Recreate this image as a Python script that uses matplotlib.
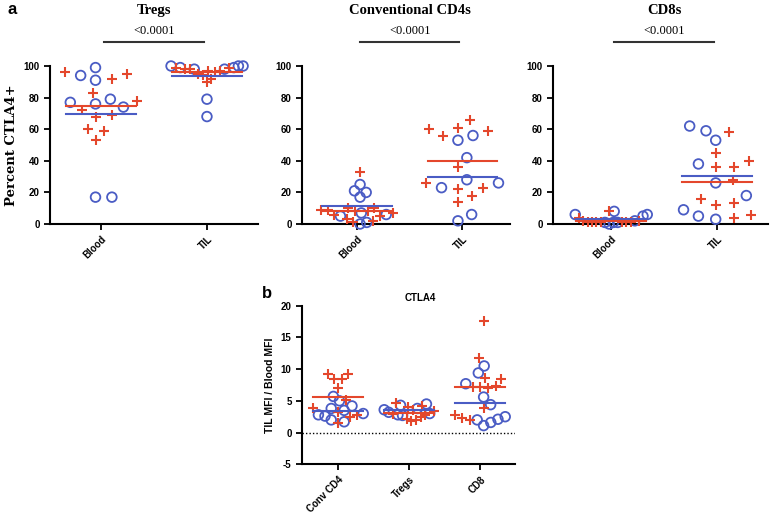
import numpy as np
import matplotlib
matplotlib.use("Agg")
import matplotlib.pyplot as plt

plt.rcParams["axes.unicode_minus"] = False

BLUE = "#4a5cc4"
RED = "#e4472c"

# panel a: percent CTLA4+ ; circles (blue) and crosses (red) per group
groups_a = ["Blood", "TIL"]
titles_a = ["Tregs", "Conventional CD4s", "CD8s"]
pvals_a = ["<0.0001", "<0.0001", "<0.0001"]

tregs_blood_circ = [99, 94, 91, 79, 77, 76, 74, 17, 17]
tregs_blood_plus = [96, 92, 95, 83, 78, 72, 68, 69, 59, 60, 53]
tregs_til_circ = [100, 100, 100, 99, 99, 98, 98, 79, 68]
tregs_til_plus = [99, 98, 97, 97, 96, 95, 94, 92, 90, 99, 98]

cd4_blood_circ = [20, 21, 25, 17, 7, 6, 5, 1, 0]
cd4_blood_plus = [33, 10, 10, 9, 9, 8, 8, 7, 6, 5, 3, 2, 1]
cd4_til_circ = [53, 56, 42, 26, 23, 28, 2, 6]
cd4_til_plus = [60, 66, 56, 59, 61, 36, 23, 26, 18, 22, 14]

cd8_blood_circ = [6, 5, 8, 6, 2, 1, 1, 1, 0]
cd8_blood_plus = [8, 4, 2, 2, 1, 1, 1, 1, 1, 1, 1]
cd8_til_circ = [59, 53, 62, 38, 26, 18, 9, 5, 3]
cd8_til_plus = [58, 45, 40, 36, 36, 28, 16, 13, 12, 4, 6]

panel_a = [
    [(tregs_blood_circ, tregs_blood_plus), (tregs_til_circ, tregs_til_plus)],
    [(cd4_blood_circ, cd4_blood_plus), (cd4_til_circ, cd4_til_plus)],
    [(cd8_blood_circ, cd8_blood_plus), (cd8_til_circ, cd8_til_plus)],
]

# panel b: TIL MFI / Blood MFI
groups_b = ["Conv CD4", "Tregs", "CD8"]
conv_circ = [5.7, 3.0, 2.8, 4.2, 3.8, 5.0, 3.5, 2.6, 1.7, 2.0]
conv_plus = [9.2, 8.4, 8.4, 9.3, 7.0, 5.2, 3.3, 2.7, 2.5, 1.5, 3.9]
treg_circ = [4.3, 4.5, 3.8, 3.0, 2.8, 2.7, 3.2, 3.6]
treg_plus = [4.6, 4.0, 4.2, 3.5, 3.0, 2.5, 2.2, 2.0, 1.8, 2.8, 3.4]
cd8b_circ = [10.5, 9.4, 7.7, 5.6, 4.4, 2.5, 2.1, 1.6, 2.0, 1.1]
cd8b_plus = [17.6, 11.7, 8.5, 8.6, 7.3, 7.2, 7.2, 7.0, 3.8, 2.8, 2.3, 2.0]
panel_b = [(conv_circ, conv_plus), (treg_circ, treg_plus), (cd8b_circ, cd8b_plus)]

tick_font = dict(fontsize=7, fontweight="bold", family="Liberation Sans")
serif = "Liberation Serif"


def swarm(ax, xc, ys, d=18.0, ry=1.6, maxw=36.0):
    # beeswarm in display pixels with an elliptic footprint (wide rows),
    # squeezed to maxw; returns x in data coords
    ys = np.asarray(ys, dtype=float)
    pts = ax.transData.transform(np.column_stack([np.full(len(ys), xc), ys]))
    order = np.argsort(pts[:, 1])
    placed = []
    xs = np.zeros(len(ys))
    for i in order:
        y = pts[i, 1]
        cands = [0.0]
        for px, py in placed:
            dy = (y - py) * ry
            if abs(dy) < d:
                dx = np.sqrt(d * d - dy * dy)
                cands += [px + dx, px - dx]
        cands.sort(key=abs)
        for c in cands:
            if all((c - px) ** 2 + ((y - py) * ry) ** 2 >= d * d - 1e-6 for px, py in placed):
                break
        placed.append((c, y))
        xs[i] = c
    xs = xs - (xs.max() + xs.min()) / 2
    w = np.abs(xs).max()
    if w > maxw:
        xs = xs * maxw / w
    back = ax.transData.inverted().transform(np.column_stack([pts[:, 0] + xs, pts[:, 1]]))
    return back[:, 0]


def draw_groups(ax, data, half=0.33, maxw=36.0):
    for k, (circ, plus) in enumerate(data):
        allv = list(circ) + list(plus)
        xs = swarm(ax, k, allv, maxw=maxw)
        nc = len(circ)
        ax.scatter(xs[:nc], circ, s=48, facecolors="none", edgecolors=BLUE,
                   linewidths=1.3, zorder=3, clip_on=False)
        ax.scatter(xs[nc:], plus, s=55, marker="+", color=RED,
                   linewidths=1.5, zorder=4, clip_on=False)
        ax.plot([k - half, k + half], [np.mean(circ)] * 2, color=BLUE, lw=1.5, zorder=5)
        ax.plot([k - half, k + half], [np.mean(plus)] * 2, color=RED, lw=1.5, zorder=5)


def style(ax):
    for s in ["top", "right"]:
        ax.spines[s].set_visible(False)
    for s in ["left", "bottom"]:
        ax.spines[s].set_linewidth(1.5)
    ax.tick_params(width=1.3, length=4, direction="out")
    for lab in ax.get_yticklabels():
        lab.set(**tick_font)


fig = plt.figure(figsize=(7.72, 5.2), dpi=100)

rects_a = [
    (50 / 772, 1 - 224 / 520, 208 / 772, 158 / 520),
    (302 / 772, 1 - 224 / 520, 208 / 772, 158 / 520),
    (553 / 772, 1 - 224 / 520, 215 / 772, 158 / 520),
]
xlims_a = [(-0.48, 1.48), (-0.52, 1.45), (-0.55, 1.48)]

for i in range(3):
    ax = fig.add_axes(rects_a[i])
    ax.set_ylim(0, 100)
    ax.set_xlim(*xlims_a[i])
    ax.set_yticks([0, 20, 40, 60, 80, 100])
    ax.set_xticks([0, 1])
    ax.set_xticklabels(groups_a, rotation=45, ha="right", rotation_mode="anchor", **tick_font)
    style(ax)
    draw_groups(ax, panel_a[i])
    # significance bar + title
    ax.plot([0.03, 0.97], [115, 115], color="#333333", lw=1.5, clip_on=False)
    ax.text(0.5, 122, pvals_a[i], ha="center", va="center", fontsize=9, family=serif)
    ax.text(0.5, 135, titles_a[i], ha="center", va="center", fontsize=10.5,
            fontweight="bold", family=serif)
    if i == 0:
        ax.set_ylabel("Percent CTLA4+", fontsize=9.5, fontweight="bold",
                      family="DejaVu Serif", labelpad=4)

axb = fig.add_axes((302 / 772, 1 - 464.3 / 520, 213 / 772, 158.6 / 520))
axb.set_ylim(-5, 20)
axb.set_xlim(-0.51, 2.49)
axb.set_yticks([-5, 0, 5, 10, 15, 20])
axb.set_xticks([0, 1, 2])
axb.set_xticklabels(groups_b, rotation=45, ha="right", rotation_mode="anchor", **tick_font)
style(axb)
axb.axhline(0, color="black", lw=1.0, ls=(0, (1, 1.5)), zorder=1)
draw_groups(axb, panel_b, half=0.35, maxw=25.0)
axb.text(1.15, 21.2, "CTLA4", ha="center", va="center", fontsize=7,
         fontweight="bold", family="Liberation Sans")
axb.set_ylabel("TIL MFI / Blood MFI", fontsize=7.5, fontweight="bold",
               family="Liberation Sans", labelpad=4)

fig.text(8 / 772, 1 - 9 / 520, "a", fontsize=12, fontweight="bold",
         family="Liberation Sans", va="center")
fig.text(262 / 772, 1 - 293 / 520, "b", fontsize=12, fontweight="bold",
         family="Liberation Sans", va="center")

fig.savefig("out.png", dpi=100)
